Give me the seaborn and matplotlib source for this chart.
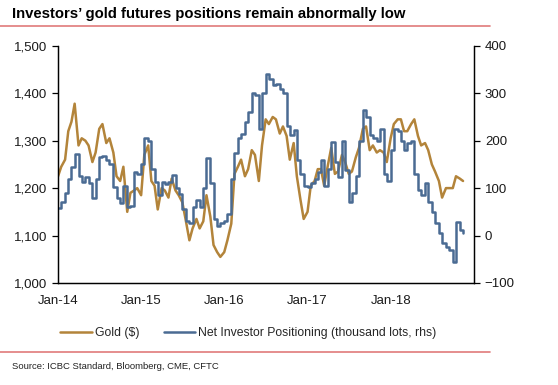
import pandas as pd
import numpy as np
import seaborn as sns
import matplotlib.pyplot as plt
import matplotlib.dates as mdates
from matplotlib.ticker import FuncFormatter

# Semi-monthly readings, Jan 2014 - Nov 2018

gold = [
    # 2014
    1225, 1245, 1260, 1320, 1340, 1378, 1290, 1305, 1300, 1290, 1255, 1275,
    1325, 1335, 1295, 1305, 1275, 1225, 1215, 1245, 1150, 1190, 1195, 1200,
    # 2015
    1185, 1270, 1290, 1215, 1205, 1155, 1200, 1195, 1180, 1220, 1195, 1185,
    1170, 1135, 1090, 1115, 1135, 1115, 1130, 1185, 1140, 1080, 1065, 1055,
    # 2016
    1065, 1090, 1125, 1230, 1245, 1260, 1225, 1240, 1280, 1270, 1215, 1290,
    1345, 1335, 1350, 1345, 1315, 1330, 1310, 1260, 1295, 1225, 1175, 1135,
    # 2017
    1150, 1205, 1215, 1240, 1240, 1205, 1250, 1285, 1230, 1235, 1270, 1255,
    1230, 1235, 1265, 1285, 1325, 1330, 1280, 1290, 1275, 1280, 1275, 1255,
    # 2018
    1305, 1335, 1345, 1345, 1320, 1320, 1335, 1345, 1310, 1290, 1295, 1280,
    1250, 1235, 1215, 1180, 1200, 1200, 1200, 1225, 1220, 1215,
]

positioning = [
    # 2014
    58, 70, 90, 120, 144, 172, 125, 112, 124, 110, 79, 120,
    165, 168, 160, 150, 102, 80, 68, 105, 60, 62, 134, 130,
    # 2015
    150, 205, 200, 140, 112, 85, 113, 108, 112, 127, 100, 88,
    55, 30, 26, 60, 75, 60, 100, 163, 110, 35, 20, 26,
    # 2016
    30, 45, 120, 175, 205, 215, 240, 260, 300, 296, 225, 300,
    340, 330, 318, 320, 310, 300, 230, 212, 222, 160, 130, 105,
    # 2017
    102, 111, 120, 135, 160, 105, 140, 197, 155, 124, 200, 138,
    70, 90, 125, 200, 265, 250, 212, 205, 200, 225, 130, 115,
    # 2018
    180, 225, 220, 200, 180, 195, 200, 130, 95, 85, 110, 70,
    50, 26, 5, -15, -25, -30, -56, 28, 11, 5,
]

dates = pd.date_range('2014-01-01', periods=len(gold), freq='SMS')
df = pd.DataFrame({'date': dates, 'gold': gold, 'pos': positioning})

gold_color = '#B3843A'
blue_color = '#4A6B93'

sns.set_style('white')
plt.rcParams['font.family'] = ['Liberation Sans', 'DejaVu Sans']

fig = plt.figure(figsize=(5.58, 3.85), dpi=100)
ax = fig.add_axes([0.104, 0.265, 0.745, 0.616])
ax2 = ax.twinx()

sns.lineplot(data=df, x='date', y='gold', ax=ax, color=gold_color, linewidth=1.8,
             label='Gold ($)', legend=False)
sns.lineplot(data=df, x='date', y='pos', ax=ax2, color=blue_color, linewidth=1.8,
             drawstyle='steps-post', label='Net Investor Positioning (thousand lots, rhs)',
             legend=False)

ax.set_xlim(pd.Timestamp('2014-01-01'), pd.Timestamp('2019-01-01'))
ax.set_ylim(1000, 1500)
ax2.set_ylim(-100, 400)
ax.set_yticks([1000, 1100, 1200, 1300, 1400, 1500])
ax2.set_yticks([-100, 0, 100, 200, 300, 400])
ax.yaxis.set_major_formatter(FuncFormatter(lambda v, p: f'{int(v):,}'))
ax.set_xticks([pd.Timestamp(f'{y}-01-01') for y in range(2014, 2019)])
ax.xaxis.set_major_formatter(mdates.DateFormatter('Jan-%y'))

for a in (ax, ax2):
    a.set_xlabel('')
    a.set_ylabel('')
    a.spines['top'].set_visible(False)
    for s in ('left', 'right', 'bottom'):
        a.spines[s].set_color('black')
        a.spines[s].set_linewidth(0.9)
    a.tick_params(direction='out', length=4, width=0.9, color='black',
                  labelsize=9.5, labelcolor='#1a1a1a')
ax.tick_params(axis='x', pad=5)
ax.tick_params(axis='y', left=True, pad=4)
ax2.tick_params(axis='y', right=True, pad=4)

# Legend below the plot

h1, l1 = ax.get_legend_handles_labels()
h2, l2 = ax2.get_legend_handles_labels()
fig.legend(h1 + h2, l1 + l2, loc='center', bbox_to_anchor=(0.445, 0.135), ncol=2,
           frameon=False, fontsize=8.8, handlelength=2.6, handletextpad=0.2,
           columnspacing=2.0)

# Title, rules and source

fig.text(0.022, 0.963, 'Investors\u2019 gold futures positions remain abnormally low',
         fontsize=10.7, fontweight='bold', va='center', ha='left', color='black')
fig.add_artist(plt.Line2D([0, 0.878], [0.932, 0.932], color='#E07A7A', linewidth=1.2))
fig.add_artist(plt.Line2D([0, 0.878], [0.086, 0.086], color='#E07A7A', linewidth=1.2))
fig.text(0.022, 0.047, 'Source: ICBC Standard, Bloomberg, CME, CFTC', fontsize=6.8,
         va='center', ha='left', color='#222222')

fig.savefig('out.png', dpi=100)
